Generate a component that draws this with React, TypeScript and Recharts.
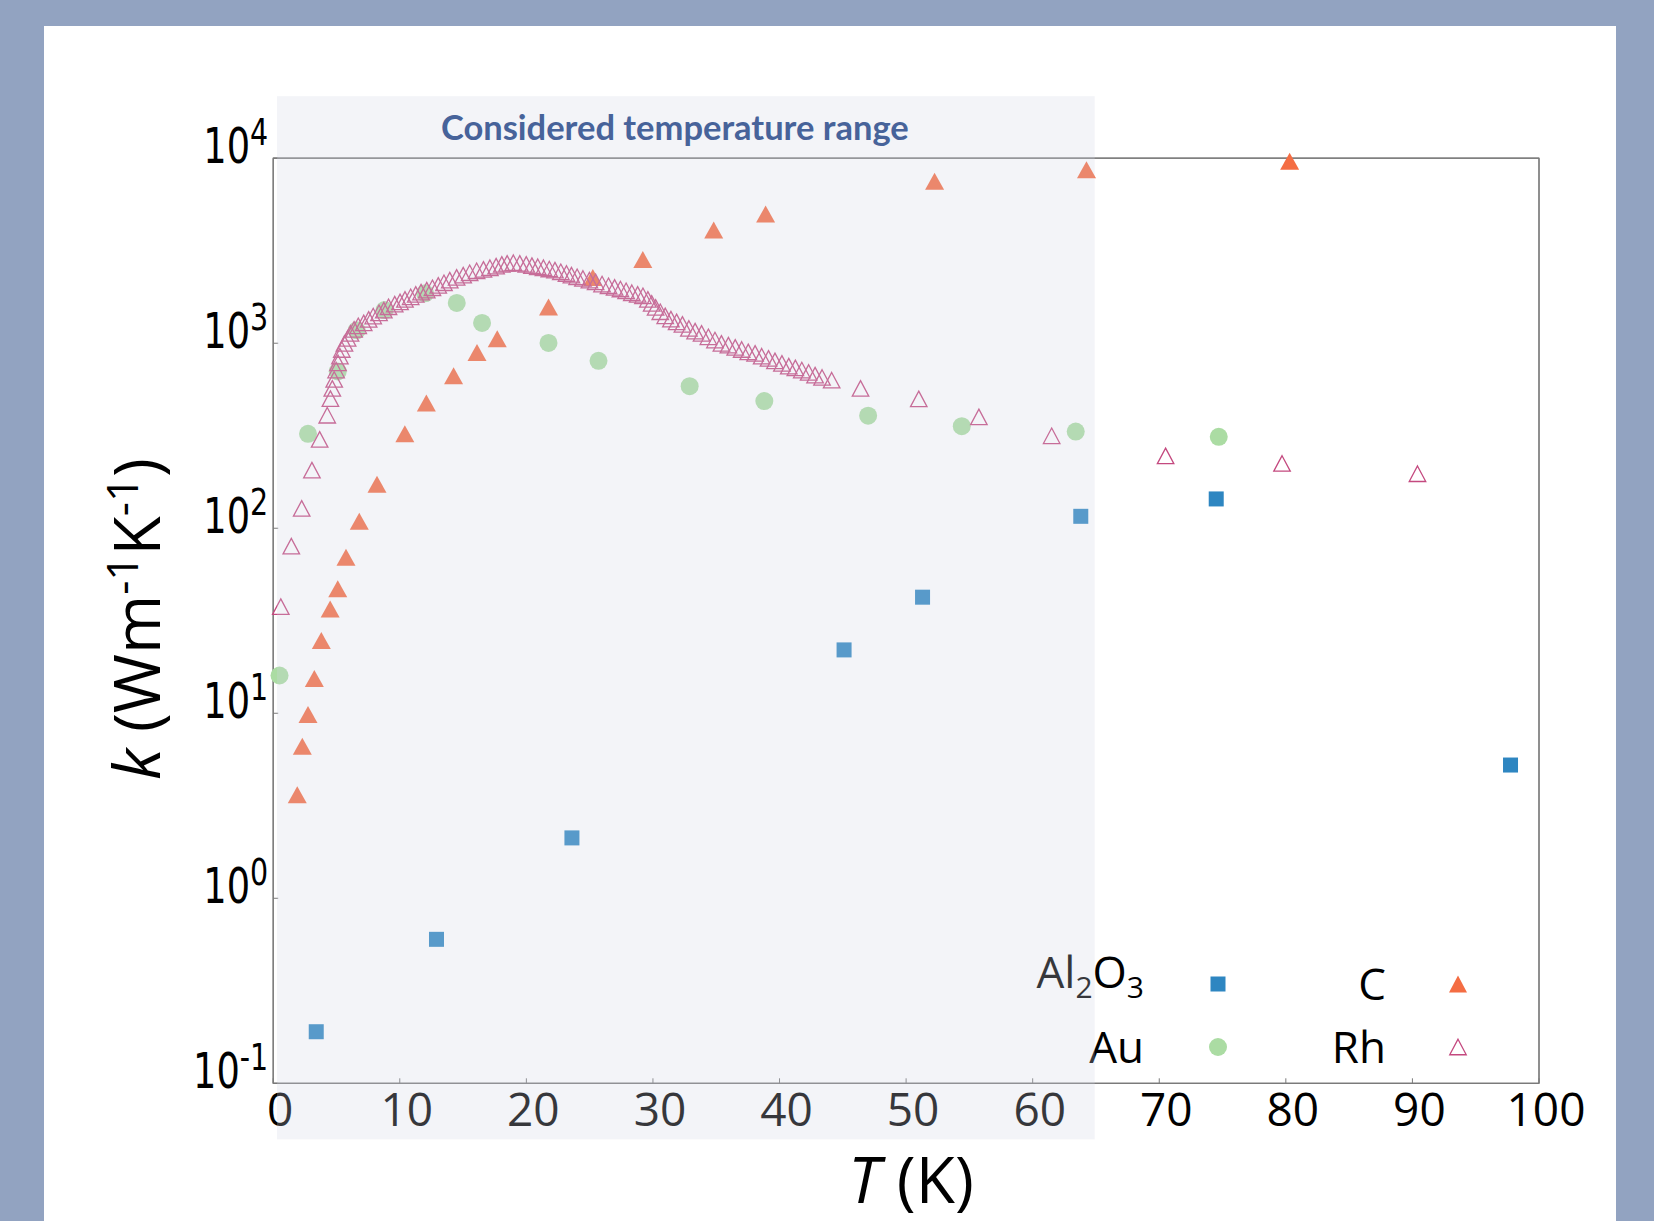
import React from 'react';
import { ScatterChart, Scatter, XAxis, YAxis, ReferenceArea } from 'recharts';

// ---------------- data ----------------
const alT = [3.4, 12.9, 23.6, 45.1, 51.3, 63.8, 74.5, 97.75];
const alK = [0.19, 0.6, 2.12, 22.0, 42.4, 116, 144, 5.25];

const auT = [0.5, 2.75, 5.1, 6.6, 8.8, 12.0, 14.5, 16.5, 21.75, 25.7, 32.9, 38.8, 47.0, 54.4, 63.4, 74.7];
const auK = [16.0, 324, 704, 1175, 1510, 1862, 1652, 1288, 1004, 803, 586, 487, 406, 356, 333, 312];

const cT = [1.9, 2.3, 2.75, 3.25, 3.8, 4.5, 5.1, 5.75, 6.8, 8.2, 10.4, 12.1, 14.25, 16.1, 17.7, 21.75, 25.25, 29.2, 34.8, 38.9, 52.25, 64.25, 80.3];
const cK = [3.63, 6.64, 9.86, 15.4, 24.7, 36.6, 47.1, 69.8, 109, 173, 324, 475, 668, 891, 1058, 1570, 2265, 2833, 4093, 4988, 7500, 8650, 9614];

const rhT = [0.6, 1.43, 2.25, 3.06, 3.67, 4.27, 4.52, 4.67, 4.82, 4.97, 5.12, 5.27, 5.42, 5.63, 5.88, 6.11, 6.39, 6.72, 7.15, 7.54, 7.9, 8.36, 8.74, 9.11, 9.6, 10.02, 10.41, 10.86, 11.26, 11.68, 12.13, 12.58, 13.04, 13.49, 13.95, 14.49, 15.01, 15.52, 16.07, 16.61, 17.12, 17.61, 18.06, 18.48, 18.97, 19.48, 19.99, 20.44, 20.9, 21.35, 21.81, 22.26, 22.72, 23.17, 23.56, 24.01, 24.47, 24.98, 25.47, 25.98, 26.49, 26.97, 27.43, 27.88, 28.33, 28.79, 29.21, 29.6, 29.9, 30.21, 30.58, 30.97, 31.42, 31.87, 32.33, 32.84, 33.33, 33.84, 34.38, 34.9, 35.41, 35.96, 36.5, 37.01, 37.53, 38.07, 38.59, 39.13, 39.64, 40.19, 40.73, 41.25, 41.76, 42.3, 42.81, 43.36, 44.12, 46.4, 51.0, 55.75, 61.5, 70.5, 79.7, 90.4];
const rhK = [37.7, 80, 128, 206, 302, 408, 502, 570, 637, 716, 783, 851, 925, 998, 1061, 1130, 1188, 1242, 1289, 1345, 1402, 1460, 1510, 1574, 1627, 1674, 1726, 1782, 1836, 1889, 1936, 1994, 2054, 2122, 2194, 2269, 2335, 2403, 2464, 2508, 2558, 2612, 2669, 2703, 2724, 2703, 2669, 2625, 2590, 2558, 2518, 2485, 2432, 2382, 2335, 2286, 2239, 2194, 2148, 2089, 2044, 2003, 1963, 1920, 1874, 1836, 1804, 1726, 1641, 1563, 1479, 1406, 1349, 1305, 1264, 1202, 1162, 1130, 1083, 1040, 998, 977, 949, 925, 898, 881, 851, 828, 803, 778, 752, 736, 716, 695, 672, 653, 631, 570, 500, 400, 316, 246, 224, 197];

const xTicks = [0, 10, 20, 30, 40, 50, 60, 70, 80, 90, 100];
const yTicks = [0.1, 1, 10, 100, 1000, 10000];
const rangeT = [0.3, 64.9];

const zip = (t: number[], k: number[]) => t.map((v, i) => ({ T: v, k: k[i] }));
const alData = zip(alT, alK);
const auData = zip(auT, auK);
const cData = zip(cT, cK);
const rhData = zip(rhT, rhK);

// ---------------- layout ----------------
const W = 1654;
const H = 1221;
const PLOT = { left: 273.2, right: 1539, top: 158.2, bottom: 1083.3 };
const YW = 100;
const XH = 60;
const FRAME = '#7a7a7a';

const C_BLUE = '#2E86C1';
const C_GREEN = '#ABDCA3';
const C_ORANGE = '#F46D43';
const C_PINK = '#C4497F';

// ---------------- shapes ----------------
const Square = (p: any) => (
  <rect x={p.cx - 7.5} y={p.cy - 7.5} width={15} height={15} fill={C_BLUE} />
);
const Dot = (p: any) => <circle cx={p.cx} cy={p.cy} r={9} fill={C_GREEN} />;
const triPath = (cx: number, cy: number, w: number, h: number) =>
  `M${cx},${cy - h / 2} L${cx + w / 2},${cy + h / 2} L${cx - w / 2},${cy + h / 2} Z`;
const FillTri = (p: any) => <path d={triPath(p.cx, p.cy, 19, 17)} fill={C_ORANGE} />;
const OpenTri = (p: any) => (
  <path d={triPath(p.cx, p.cy, 16.5, 15.5)} fill="none" stroke={C_PINK} strokeWidth={1.3} />
);

// ---------------- ticks ----------------
const XTick = (props: any) => {
  const { x, y, payload } = props;
  return (
    <g>
      <line x1={x} x2={x} y1={y} y2={y - 5} stroke={FRAME} strokeWidth={1} />
      <text x={x + 7} y={y + 43} textAnchor="middle" fontFamily="'Open Sans'" fontSize={46} fill="#000">
        {payload.value}
      </text>
    </g>
  );
};
const TopTick = (props: any) => {
  const { x, y } = props;
  return <line x1={x} x2={x} y1={y} y2={y + 5} stroke={FRAME} strokeWidth={1} />;
};
const YTick = (props: any) => {
  const { x, y, payload } = props;
  const e = Math.round(Math.log10(payload.value));
  return (
    <g>
      <line x1={x} x2={x + 5} y1={y} y2={y} stroke={FRAME} strokeWidth={1} />
      <g transform={`translate(${x - 5},${y}) scale(0.75,1)`}>
        <text x={0} y={5} textAnchor="end" fontFamily="'DejaVu Sans'" fontSize={49} fill="#000">
          10<tspan dy={-18} fontSize={38}>{e < 0 ? '-' + Math.abs(e) : String(e)}</tspan>
        </text>
      </g>
    </g>
  );
};
const RightTick = (props: any) => {
  const { x, y } = props;
  return <line x1={x} x2={x - 5} y1={y} y2={y} stroke={FRAME} strokeWidth={1} />;
};

// ---------------- overlay ----------------
const Overlay = (p: any) => (
  <g>
    <rect x={p.x} y={p.y - 62} width={p.width} height={p.height + 118} fill="rgb(210,214,228)" fillOpacity={0.26} />
    <text
      x={p.x + p.width / 2 - 11}
      y={p.y - 18}
      textAnchor="middle"
      fontFamily="Lato"
      fontWeight={700}
      fontSize={34.5}
      fill="#47639A"
    >
      Considered temperature range
    </text>
  </g>
);

const Frame = (p: any) => (
  <rect x={p.x} y={p.y} width={p.width} height={p.height} fill="none" stroke={FRAME} strokeWidth={1.2} />
);

// ---------------- legend & titles ----------------
const Decor = () => (
  <g fontFamily="'Open Sans'" fill="#000">
    <text x={1144} y={988} textAnchor="end" fontSize={44}>
      Al<tspan dy={10} fontSize={30}>2</tspan>
      <tspan dy={-10}>O</tspan>
      <tspan dy={10} fontSize={30}>3</tspan>
    </text>
    <rect x={1218 - 7.5} y={984 - 7.5} width={15} height={15} fill={C_BLUE} />
    <text x={1386} y={1000} textAnchor="end" fontSize={44}>C</text>
    <path d={triPath(1458, 984, 18, 17)} fill={C_ORANGE} />
    <text x={1144} y={1063} textAnchor="end" fontSize={44}>Au</text>
    <circle cx={1218} cy={1047} r={9} fill={C_GREEN} />
    <text x={1386} y={1063} textAnchor="end" fontSize={44}>Rh</text>
    <path d={triPath(1458, 1047, 16.5, 15.5)} fill="none" stroke={C_PINK} strokeWidth={1.3} />

    <text x={911} y={1203} textAnchor="middle" fontSize={64}>
      <tspan fontStyle="italic">T</tspan> (K)
    </text>
    <text transform="translate(160,619) rotate(-90)" textAnchor="middle" fontSize={64}>
      <tspan fontStyle="italic">k</tspan> (Wm<tspan dy={-22} fontSize={44}>-1</tspan>
      <tspan dy={22}>K</tspan>
      <tspan dy={-22} fontSize={44}>-1</tspan>
      <tspan dy={22}>)</tspan>
    </text>
  </g>
);

export default function App() {
  return (
    <div style={{ position: 'absolute', left: 0, top: 0, width: W, height: H, background: '#92A3C1', overflow: 'hidden' }}>
      <div style={{ position: 'absolute', left: 44, top: 26, width: 1572, height: H - 26, background: '#FFFFFF' }} />
      <div style={{ position: 'absolute', left: 0, top: 0 }}>
        <ScatterChart
          width={W}
          height={H}
          margin={{ top: PLOT.top - 1, right: W - PLOT.right - 1, bottom: H - PLOT.bottom - XH, left: PLOT.left - YW }}
        >
          <XAxis
            xAxisId={0}
            type="number"
            dataKey="T"
            domain={[0, 100]}
            ticks={xTicks}
            height={XH}
            tickSize={0}
            tickMargin={0}
            tickLine={false}
            axisLine={{ stroke: FRAME, strokeWidth: 1.2 }}
            tick={XTick}
            interval={0}
          />
          <XAxis
            xAxisId="top"
            orientation="top"
            type="number"
            domain={[0, 100]}
            ticks={xTicks}
            height={1}
            tickSize={0}
            tickMargin={0}
            tickLine={false}
            axisLine={{ stroke: FRAME, strokeWidth: 1.2 }}
            tick={TopTick}
            interval={0}
          />
          <YAxis
            yAxisId={0}
            type="number"
            dataKey="k"
            scale="log"
            domain={[0.1, 10000]}
            ticks={yTicks}
            width={YW}
            tickSize={0}
            tickMargin={0}
            tickLine={false}
            axisLine={{ stroke: FRAME, strokeWidth: 1.2 }}
            tick={YTick}
            interval={0}
          />
          <YAxis
            yAxisId="right"
            orientation="right"
            type="number"
            scale="log"
            domain={[0.1, 10000]}
            ticks={yTicks}
            width={1}
            tickSize={0}
            tickMargin={0}
            tickLine={false}
            axisLine={{ stroke: FRAME, strokeWidth: 1.2 }}
            tick={RightTick}
            interval={0}
          />
          <ReferenceArea ifOverflow="visible" shape={Frame} />
          <Scatter name="Al2O3" data={alData} shape={Square} isAnimationActive={false} />
          <Scatter name="Au" data={auData} shape={Dot} isAnimationActive={false} />
          <Scatter name="C" data={cData} shape={FillTri} isAnimationActive={false} />
          <Scatter name="Rh" data={rhData} shape={OpenTri} isAnimationActive={false} />
          <Decor />
          <ReferenceArea
            x1={rangeT[0]}
            x2={rangeT[1]}
            ifOverflow="visible"
            shape={Overlay}
            zIndex={3000}
          />
        </ScatterChart>
      </div>
    </div>
  );
}
